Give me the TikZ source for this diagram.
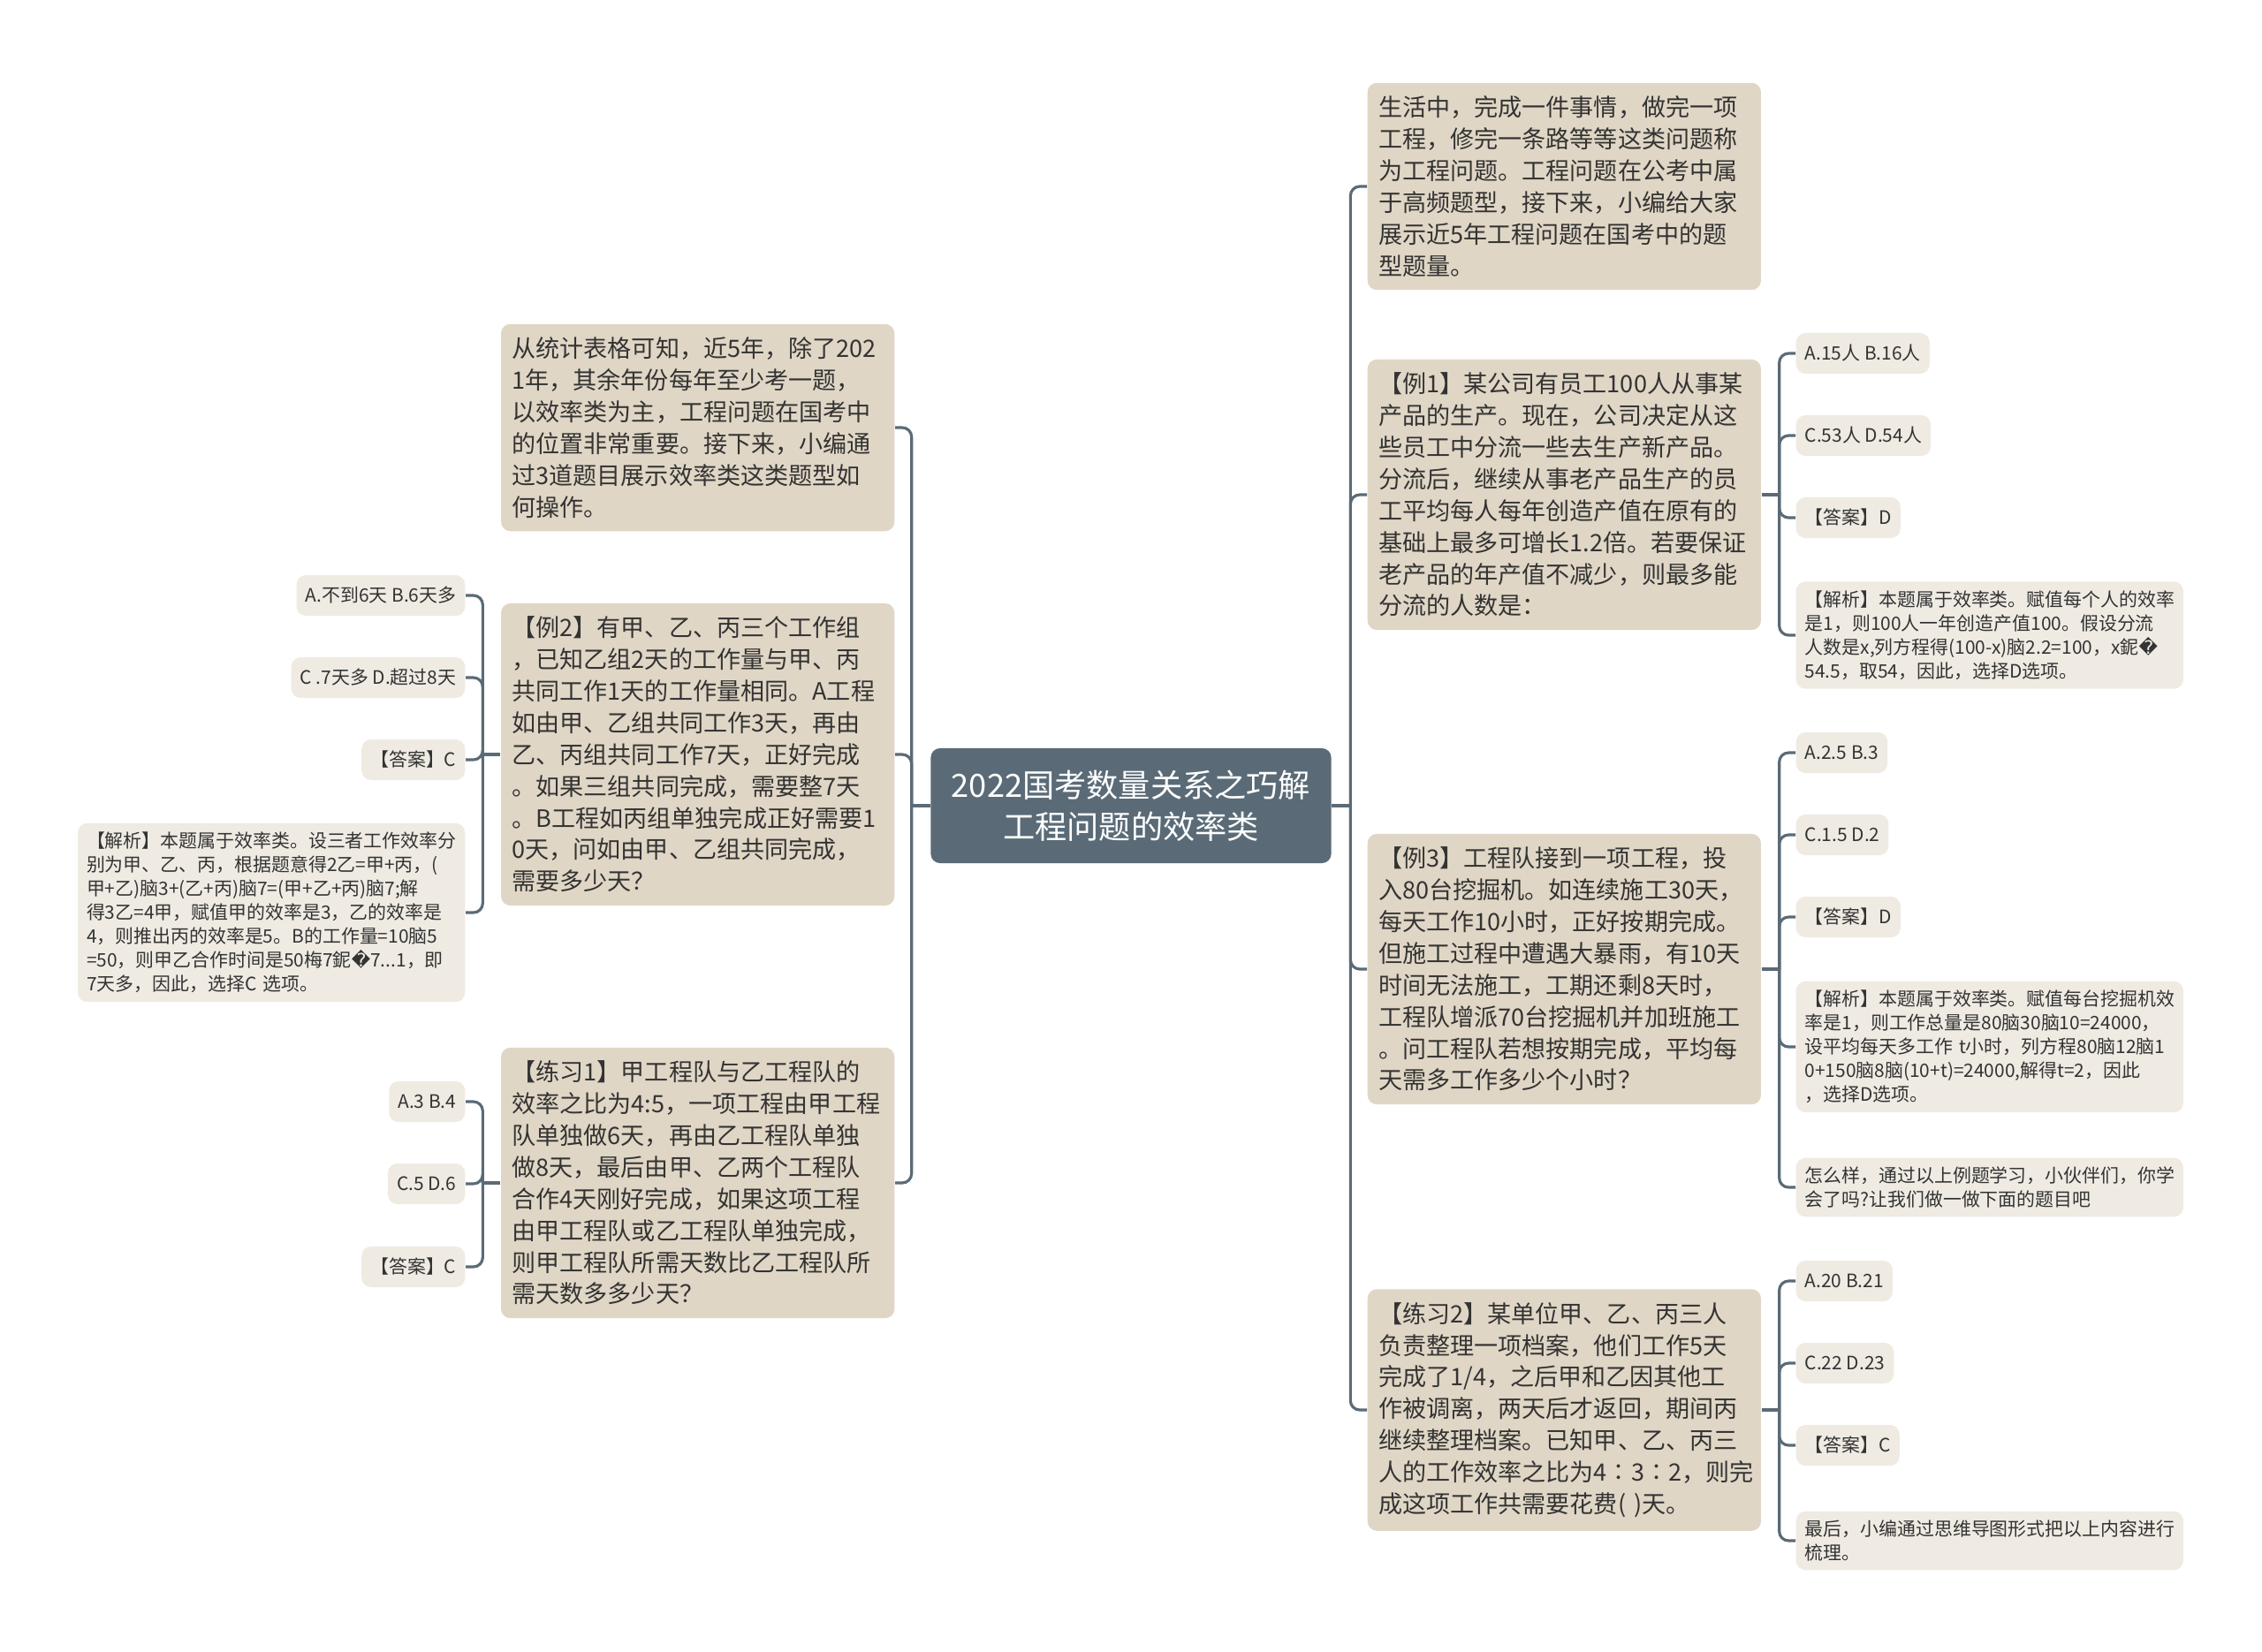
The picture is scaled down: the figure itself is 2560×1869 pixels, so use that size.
\documentclass[tikz,border=0pt]{standalone}
\usepackage{fontspec}
\setmainfont{Noto Sans CJK SC}
\newfontfamily\dejavu{DejaVu Sans}
\usepackage{tikz}
\usetikzlibrary{positioning}

\definecolor{topicfill}{HTML}{5A6B77}
\definecolor{bigfill}{HTML}{E0D6C5}
\definecolor{leaffill}{HTML}{EFEBE3}
\definecolor{linecol}{HTML}{5A6B77}
\definecolor{txtcol}{HTML}{333333}

\newcommand{\badch}{{\dejavu\symbol{"FFFD}}}

\begin{document}
\begin{tikzpicture}[x=0.01cm,y=-0.01cm,
  topic/.style={fill=topicfill,text=white,rounded corners=3pt,align=center,
    minimum width=4.53cm,minimum height=1.3cm,font=\fontsize{10.3}{13.4}\selectfont},
  bigbox/.style={fill=bigfill,text=txtcol,rounded corners=3pt,text width=4.2cm,
    inner xsep=0.125cm,inner ysep=0.15cm,align=left,font=\fontsize{7.7}{10.2}\selectfont},
  leaf/.style={fill=leaffill,text=txtcol,rounded corners=3pt,inner xsep=0.1cm,
    minimum height=0.46cm,font=\fontsize{5.95}{7.7}\selectfont},
  longleaf/.style={leaf,text width=4.18cm,align=left,inner ysep=0.1cm},
  conn/.style={draw=linecol,line width=0.9pt,rounded corners=3pt}]

\useasboundingbox (0,0) rectangle (2560,1869);

\node[topic] (root) at (1280,912) {2022国考数量关系之巧解\\工程问题的效率类};

% right branches
\node[bigbox,anchor=west] (intro) at (1547,211) {生活中，完成一件事情，做完一项\\工程，修完一条路等等这类问题称\\为工程问题。工程问题在公考中属\\于高频题型，接下来，小编给大家\\展示近5年工程问题在国考中的题\\型题量。};
\node[bigbox,anchor=west] (ex1) at (1547,560) {【例1】某公司有员工100人从事某\\产品的生产。现在，公司决定从这\\些员工中分流一些去生产新产品。\\分流后，继续从事老产品生产的员\\工平均每人每年创造产值在原有的\\基础上最多可增长1.2倍。若要保证\\老产品的年产值不减少，则最多能\\分流的人数是：};
\node[bigbox,anchor=west] (ex3) at (1547,1097) {【例3】工程队接到一项工程，投\\入80台挖掘机。如连续施工30天，\\每天工作10小时，正好按期完成。\\但施工过程中遭遇大暴雨，有10天\\时间无法施工，工期还剩8天时，\\工程队增派70台挖掘机并加班施工\\。问工程队若想按期完成，平均每\\天需多工作多少个小时？};
\node[bigbox,anchor=west] (prac2) at (1547,1596) {【练习2】某单位甲、乙、丙三人\\负责整理一项档案，他们工作5天\\完成了1/4，之后甲和乙因其他工\\作被调离，两天后才返回，期间丙\\继续整理档案。已知甲、乙、丙三\\人的工作效率之比为4∶3∶2，则完\\成这项工作共需要花费( )天。};

\node[leaf,anchor=west] (ex1a) at (2032,400) {A.15人 B.16人};
\node[leaf,anchor=west] (ex1b) at (2032,493) {C.53人 D.54人};
\node[leaf,anchor=west] (ex1c) at (2032,586) {【答案】D};
\node[longleaf,anchor=west] (ex1d) at (2032,719) {【解析】本题属于效率类。赋值每个人的效率\\是1，则100人一年创造产值100。假设分流\\人数是x,列方程得(100-x)脑2.2=100，x鈮\badch\\54.5，取54，因此，选择D选项。};

\node[leaf,anchor=west] (ex3a) at (2032,852) {A.2.5 B.3};
\node[leaf,anchor=west] (ex3b) at (2032,945) {C.1.5 D.2};
\node[leaf,anchor=west] (ex3c) at (2032,1038) {【答案】D};
\node[longleaf,anchor=west] (ex3d) at (2032,1185) {【解析】本题属于效率类。赋值每台挖掘机效\\率是1，则工作总量是80脑30脑10=24000，\\设平均每天多工作 t小时，列方程80脑12脑1\\0+150脑8脑(10+t)=24000,解得t=2，因此\\，选择D选项。};
\node[longleaf,anchor=west] (ex3e) at (2032,1344) {怎么样，通过以上例题学习，小伙伴们，你学\\会了吗?让我们做一做下面的题目吧};

\node[leaf,anchor=west] (pr2a) at (2032,1450) {A.20 B.21};
\node[leaf,anchor=west] (pr2b) at (2032,1543) {C.22 D.23};
\node[leaf,anchor=west] (pr2c) at (2032,1636) {【答案】C};
\node[longleaf,anchor=west] (pr2d) at (2032,1744) {最后，小编通过思维导图形式把以上内容进行\\梳理。};

% left branches
\node[bigbox,anchor=east] (stat) at (1013,484) {从统计表格可知，近5年，除了202\\1年，其余年份每年至少考一题，\\以效率类为主，工程问题在国考中\\的位置非常重要。接下来，小编通\\过3道题目展示效率类这类题型如\\何操作。};
\node[bigbox,anchor=east] (ex2) at (1013,854) {【例2】有甲、乙、丙三个工作组\\，已知乙组2天的工作量与甲、丙\\共同工作1天的工作量相同。A工程\\如由甲、乙组共同工作3天，再由\\乙、丙组共同工作7天，正好完成\\。如果三组共同完成，需要整7天\\。B工程如丙组单独完成正好需要1\\0天，问如由甲、乙组共同完成，\\需要多少天？};
\node[bigbox,anchor=east] (prac1) at (1013,1339) {【练习1】甲工程队与乙工程队的\\效率之比为4:5，一项工程由甲工程\\队单独做6天，再由乙工程队单独\\做8天，最后由甲、乙两个工程队\\合作4天刚好完成，如果这项工程\\由甲工程队或乙工程队单独完成，\\则甲工程队所需天数比乙工程队所\\需天数多多少天？};

\node[leaf,anchor=east] (ex2a) at (527,674) {A.不到6天 B.6天多};
\node[leaf,anchor=east] (ex2b) at (527,767) {C .7天多 D.超过8天};
\node[leaf,anchor=east] (ex2c) at (527,860) {【答案】C};
\node[longleaf,anchor=east] (ex2d) at (527,1033) {【解析】本题属于效率类。设三者工作效率分\\别为甲、乙、丙，根据题意得2乙=甲+丙，(\\甲+乙)脑3+(乙+丙)脑7=(甲+乙+丙)脑7;解\\得3乙=4甲，赋值甲的效率是3，乙的效率是\\4，则推出丙的效率是5。B的工作量=10脑5\\=50，则甲乙合作时间是50梅7鈮\badch7...1，即\\7天多，因此，选择C 选项。};

\node[leaf,anchor=east] (pr1a) at (527,1247) {A.3 B.4};
\node[leaf,anchor=east] (pr1b) at (527,1340) {C.5 D.6};
\node[leaf,anchor=east] (pr1c) at (527,1434) {【答案】C};

% connectors
\draw[conn] (root.east) -- ++(21,0);
\foreach \n in {intro,ex1,ex3,prac2}
  \draw[conn] (root.east) ++(21,0) |- (\n.west);
\draw[conn] (root.west) -- ++(-21,0);
\foreach \n in {stat,ex2,prac1}
  \draw[conn] (root.west) ++(-21,0) |- (\n.east);

\draw[conn] (ex1.east) -- ++(20,0);
\foreach \n in {ex1a,ex1b,ex1c,ex1d}
  \draw[conn] (ex1.east) ++(20,0) |- (\n.west);
\draw[conn] (ex3.east) -- ++(20,0);
\foreach \n in {ex3a,ex3b,ex3c,ex3d,ex3e}
  \draw[conn] (ex3.east) ++(20,0) |- (\n.west);
\draw[conn] (prac2.east) -- ++(20,0);
\foreach \n in {pr2a,pr2b,pr2c,pr2d}
  \draw[conn] (prac2.east) ++(20,0) |- (\n.west);

\draw[conn] (ex2.west) -- ++(-20,0);
\foreach \n in {ex2a,ex2b,ex2c,ex2d}
  \draw[conn] (ex2.west) ++(-20,0) |- (\n.east);
\draw[conn] (prac1.west) -- ++(-20,0);
\foreach \n in {pr1a,pr1b,pr1c}
  \draw[conn] (prac1.west) ++(-20,0) |- (\n.east);

\end{tikzpicture}
\end{document}
